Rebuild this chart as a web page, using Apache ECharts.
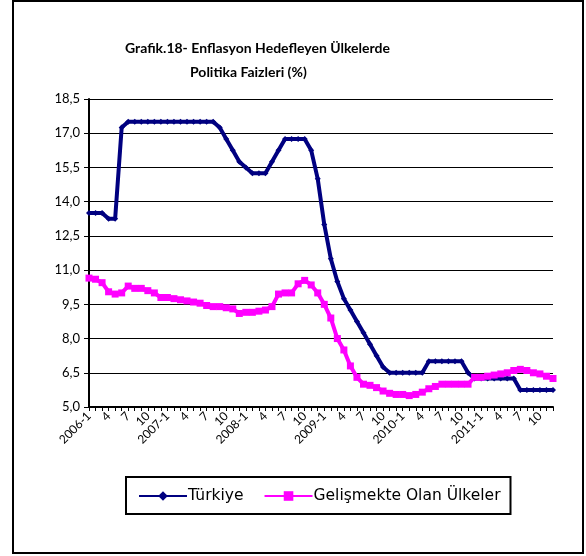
<!DOCTYPE html>
<html>
<head>
<meta charset="UTF-8">
<title>Grafik.18</title>
<script src="https://cdn.jsdelivr.net/npm/echarts@6/dist/echarts.min.js"></script>
<style>
  html, body { margin: 0; padding: 0; background: #fff; }
  #chart { width: 586px; height: 556px; }
</style>
</head>
<body>
<div id="chart"></div>
<script>
// aylar: 2006-1 .. 2011-12
var years = [2006, 2007, 2008, 2009, 2010, 2011];
var months = [1, 2, 3, 4, 5, 6, 7, 8, 9, 10, 11, 12];

var turkiye = [
  13.5, 13.5, 13.5, 13.25, 13.25, 17.25, 17.5, 17.5, 17.5, 17.5, 17.5, 17.5,
  17.5, 17.5, 17.5, 17.5, 17.5, 17.5, 17.5, 17.5, 17.25, 16.75, 16.25, 15.75,
  15.5, 15.25, 15.25, 15.25, 15.75, 16.25, 16.75, 16.75, 16.75, 16.75, 16.25, 15.0,
  13.0, 11.5, 10.5, 9.75, 9.25, 8.75, 8.25, 7.75, 7.25, 6.75, 6.5, 6.5,
  6.5, 6.5, 6.5, 6.5, 7.0, 7.0, 7.0, 7.0, 7.0, 7.0, 6.5, 6.25,
  6.25, 6.25, 6.25, 6.25, 6.25, 6.25, 5.75, 5.75, 5.75, 5.75, 5.75, 5.75
];

var gelismekte = [
  10.65, 10.6, 10.45, 10.05, 9.95, 10.0, 10.3, 10.2, 10.2, 10.1, 10.0, 9.8,
  9.8, 9.75, 9.7, 9.65, 9.6, 9.55, 9.45, 9.4, 9.4, 9.35, 9.3, 9.1,
  9.15, 9.15, 9.2, 9.25, 9.4, 9.95, 10.0, 10.0, 10.4, 10.55, 10.35, 10.0,
  9.5, 8.9, 8.0, 7.5, 6.8, 6.3, 6.0, 5.95, 5.85, 5.7, 5.6, 5.55,
  5.55, 5.5, 5.55, 5.65, 5.8, 5.9, 6.0, 6.0, 6.0, 6.0, 6.0, 6.3,
  6.3, 6.35, 6.4, 6.45, 6.5, 6.6, 6.65, 6.6, 6.5, 6.45, 6.35, 6.25
];

var seriesNames = ['Türkiye', 'Gelişmekte Olan Ülkeler'];
var titleLines = ['Grafik.18- Enflasyon Hedefleyen Ülkelerde', 'Politika Faizleri (%)'];
var yMin = 5.0, yMax = 18.5, yStep = 1.5;

var categories = [];
years.forEach(function (y) {
  months.forEach(function (m) { categories.push(y + '-' + m); });
});

var fontFam = 'Lato, "DejaVu Sans", sans-serif';
var titleStyle = { fontSize: 14, fontWeight: 'bold', color: '#000', fontFamily: fontFam };

var chart = echarts.init(document.getElementById('chart'));
chart.setOption({
  animation: false,
  backgroundColor: '#fff',
  textStyle: { fontFamily: fontFam, color: '#000' },
  title: [
    { text: titleLines[0], left: 125, top: 41, padding: 0, textStyle: titleStyle },
    { text: titleLines[1], left: 190, top: 65, padding: 0, textStyle: titleStyle }
  ],
  graphic: [{
    type: 'rect',
    shape: { x: 13, y: 1, width: 570, height: 552 },
    style: { fill: 'none', stroke: '#000', lineWidth: 2 },
    silent: true
  }],
  legend: {
    left: 126,
    top: 477,
    padding: [11, 10, 10, 12],
    itemGap: 20,
    itemWidth: 48,
    itemHeight: 12,
    borderColor: '#000',
    borderWidth: 2,
    textStyle: { fontSize: 15.5, color: '#000', fontFamily: '"DejaVu Sans", sans-serif', padding: [0, 0, 0, -4] },
    data: seriesNames
  },
  grid: { left: 89, right: 33, top: 99, bottom: 149, containLabel: false },
  xAxis: {
    type: 'category',
    boundaryGap: false,
    data: categories,
    axisLine: { lineStyle: { color: '#000', width: 2 } },
    axisTick: { show: true, interval: 0, length: 4, lineStyle: { color: '#000', width: 1 } },
    axisLabel: {
      interval: 0,
      rotate: 45,
      fontSize: 12,
      color: '#000',
      margin: 7,
      formatter: function (val, idx) {
        var m = idx % 12 + 1;
        if (m === 1) return val;
        if (m === 4 || m === 7 || m === 10) return String(m);
        return '';
      }
    },
    splitLine: { show: false }
  },
  yAxis: {
    type: 'value',
    min: yMin,
    max: yMax,
    interval: yStep,
    axisLine: { show: true, lineStyle: { color: '#000', width: 2 } },
    axisTick: { show: true, length: 5, lineStyle: { color: '#000', width: 1 } },
    axisLabel: {
      fontSize: 13,
      color: '#000',
      margin: 9,
      formatter: function (v) { return v.toFixed(1).replace('.', ','); }
    },
    splitLine: { show: true, lineStyle: { color: '#000', width: 1 } }
  },
  series: [
    {
      name: seriesNames[0],
      type: 'line',
      data: turkiye,
      color: '#000080',
      symbol: 'diamond',
      symbolSize: 6,
      showSymbol: true,
      lineStyle: { width: 4, color: '#000080' },
      itemStyle: { color: '#000080' }
    },
    {
      name: seriesNames[1],
      type: 'line',
      data: gelismekte,
      color: '#FF00FF',
      symbol: 'rect',
      symbolSize: 7,
      showSymbol: true,
      lineStyle: { width: 4, color: '#FF00FF' },
      itemStyle: { color: '#FF00FF' }
    }
  ]
});
</script>
</body>
</html>
